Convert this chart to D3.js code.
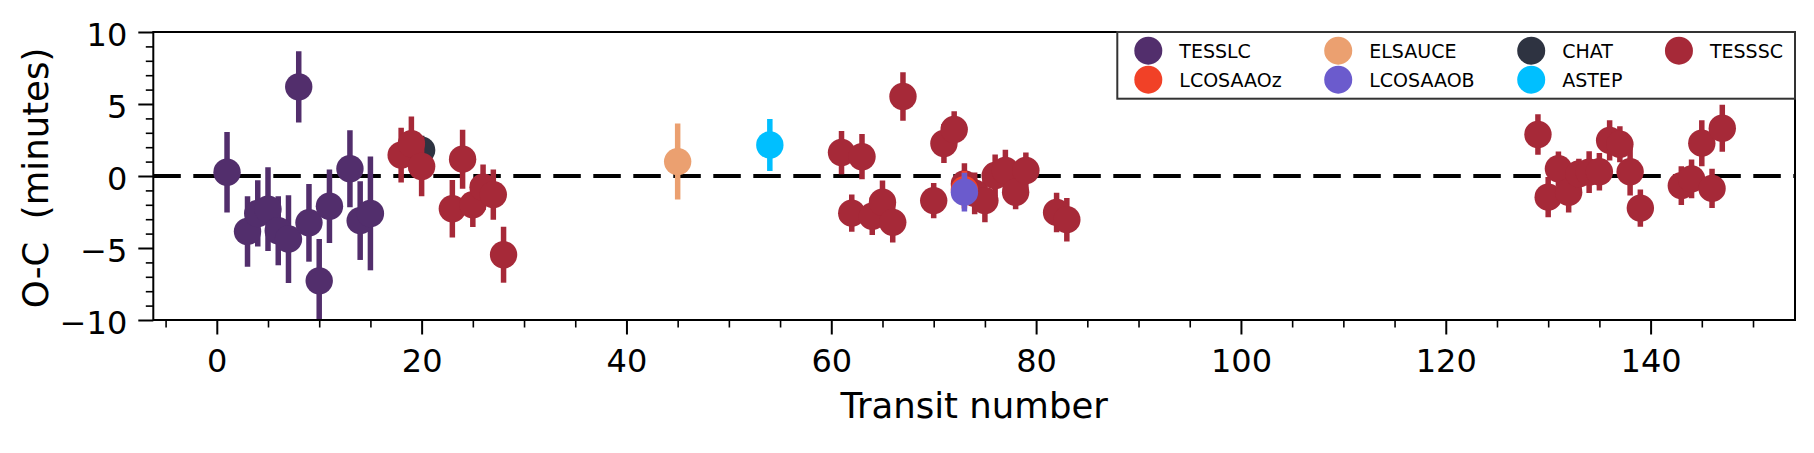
<!DOCTYPE html>
<html><head><meta charset="utf-8">
<script src="https://cdn.jsdelivr.net/npm/d3@7"></script>
<style>
body{margin:0;background:#fff}
svg text{font-family:"DejaVu Sans",sans-serif;fill:#000;white-space:pre}
</style>
</head><body>
<svg id="chart" width="1814" height="453"></svg>
<script>
// ---------------- data ----------------
const xMajorTicks = [0, 20, 40, 60, 80, 100, 120, 140];
const yMajorTicks = [-10, -5, 0, 5, 10];
const xLabel = "Transit number";
const yLabel = "O-C  (minutes)";

const tesslcT = [1, 3, 4, 5, 6, 7, 8, 9, 10, 11, 13, 14, 15];
const tesslcV = [0.26, -3.85, -2.6, -2.3, -3.8, -4.38, 6.19, -3.25, -7.28, -2.1, 0.5, -3.1, -2.6];
const tesslcE = [2.8, 2.45, 2.3, 2.9, 2.4, 3.05, 2.47, 2.7, 2.9, 2.55, 2.67, 2.73, 3.95];

const chatT = [20];
const chatV = [1.8];
const chatE = [1.0];

const elsauceT = [45];
const elsauceV = [1.0];
const elsauceE = [2.64];

const astepT = [54];
const astepV = [2.15];
const astepE = [1.8];

const tessscT = [18, 19, 20, 23, 24, 25, 26, 27, 28,
  61, 62, 63, 64, 65, 66, 67, 70, 71, 72, 73, 74, 75, 76, 77, 78, 79, 82, 83,
  129, 130, 131, 132, 133, 134, 135, 136, 137, 138, 139, 143, 144, 145, 146, 147];
const tessscV = [1.45, 2.24, 0.66, -2.27, 1.17, -2.0, -0.78, -1.29, -5.47,
  1.63, -2.58, 1.34, -2.8, -1.82, -3.22, 5.52, -1.71, 2.26, 3.23, -0.55, -1.2, -1.71, 0.03, 0.38, -1.13, 0.38, -2.53, -3.03,
  2.88, -1.47, 0.5, -1.13, 0.15, 0.27, 0.29, 2.47, 2.2, 0.29, -2.23, -0.67, -0.2, 2.28, -0.86, 3.32];
const tessscE = [1.9, 1.9, 2.06, 2.0, 2.05, 1.55, 1.58, 1.74, 1.94,
  1.5, 1.3, 1.57, 1.3, 1.5, 1.4, 1.69, 1.23, 1.35, 1.27, 1.44, 1.45, 1.5, 1.47, 1.44, 1.18, 1.26, 1.37, 1.51,
  1.4, 1.4, 1.2, 1.4, 1.05, 1.45, 1.3, 1.4, 1.25, 1.65, 1.3, 1.34, 1.35, 1.6, 1.36, 1.63];

const lcosaaozT = [73];
const lcosaaozV = [-0.95];
const lcosaaozE = [1.3];

const lcosaaobT = [73];
const lcosaaobV = [-1.12];
const lcosaaobE = [1.35];

// legend order (column-major, 2 rows)
const legendOrder = ["TESSLC", "LCOSAAOz", "ELSAUCE", "LCOSAAOB", "CHAT", "ASTEP", "TESSSC"];
// drawing order
const drawOrder = ["TESSLC", "CHAT", "ELSAUCE", "ASTEP", "TESSSC", "LCOSAAOz", "LCOSAAOB"];

// ---------------- styles ----------------
const colors = {
  TESSLC: "#522e6c", LCOSAAOz: "#f14127", ELSAUCE: "#eba070", LCOSAAOB: "#6b5bcd",
  CHAT: "#2e3341", ASTEP: "#00bfff", TESSSC: "#a62938"
};
const seriesData = {
  TESSLC: [tesslcT, tesslcV, tesslcE], CHAT: [chatT, chatV, chatE],
  ELSAUCE: [elsauceT, elsauceV, elsauceE], ASTEP: [astepT, astepV, astepE],
  TESSSC: [tessscT, tessscV, tessscE], LCOSAAOz: [lcosaaozT, lcosaaozV, lcosaaozE],
  LCOSAAOB: [lcosaaobT, lcosaaobV, lcosaaobE]
};

const svg = d3.select("#chart");
const L = 153.3, R = 1795, T = 32, B = 320;
const x = d3.scaleLinear().domain([-6.2, 154.1]).range([L, R]);
const y = d3.scaleLinear().domain([-10, 10]).range([B, T]);

svg.append("rect").attr("width", 1814).attr("height", 453).attr("fill", "#fff");

svg.append("defs").append("clipPath").attr("id", "clip")
  .append("rect").attr("x", L).attr("y", T).attr("width", R - L).attr("height", B - T);

// zero line
svg.append("line").attr("x1", L).attr("x2", R).attr("y1", y(0)).attr("y2", y(0))
  .attr("stroke", "#000").attr("stroke-width", 4).attr("stroke-dasharray", "27.5 12.5")
  .attr("clip-path", "url(#clip)");

// data
const plot = svg.append("g").attr("clip-path", "url(#clip)");
drawOrder.forEach(name => {
  const [ts, vs, es] = seriesData[name];
  const pts = ts.map((t, i) => ({t, v: vs[i], e: es[i]}));
  const g = plot.append("g");
  g.selectAll("line").data(pts).join("line")
    .attr("x1", d => x(d.t)).attr("x2", d => x(d.t))
    .attr("y1", d => y(d.v - d.e)).attr("y2", d => y(d.v + d.e))
    .attr("stroke", colors[name]).attr("stroke-width", 5.5);
  g.selectAll("circle").data(pts).join("circle")
    .attr("cx", d => x(d.t)).attr("cy", d => y(d.v)).attr("r", 13.7)
    .attr("fill", colors[name]);
});

// axes
const fmt = d3.format("d");
const xMinor = d3.range(-5, 155, 5).filter(v => !xMajorTicks.includes(v));
const yMinor = d3.range(-10, 11, 1).filter(v => !yMajorTicks.includes(v));

const gx = svg.append("g").attr("transform", `translate(0,${B})`)
  .call(d3.axisBottom(x).tickValues(xMajorTicks).tickFormat(fmt).tickSize(14.5).tickSizeOuter(0).tickPadding(15));
const gxm = svg.append("g").attr("transform", `translate(0,${B})`)
  .call(d3.axisBottom(x).tickValues(xMinor).tickFormat("").tickSize(7.5).tickSizeOuter(0));
const gy = svg.append("g").attr("transform", `translate(${L},0)`)
  .call(d3.axisLeft(y).tickValues(yMajorTicks).tickFormat(fmt).tickSize(15).tickSizeOuter(0).tickPadding(11));
const gym = svg.append("g").attr("transform", `translate(${L},0)`)
  .call(d3.axisLeft(y).tickValues(yMinor).tickFormat("").tickSize(7.5).tickSizeOuter(0));

[gx, gxm, gy, gym].forEach(g => {
  g.select(".domain").remove();
  g.attr("font-family", null).attr("font-size", null);
  g.selectAll("line").attr("stroke", "#000");
});
gx.selectAll("line").attr("stroke-width", 2);
gy.selectAll("line").attr("stroke-width", 2);
gxm.selectAll("line").attr("stroke-width", 1.6);
gym.selectAll("line").attr("stroke-width", 1.6);
gx.selectAll("text").attr("font-size", 32).attr("fill", "#000");
gy.selectAll("text").attr("font-size", 32).attr("fill", "#000").attr("dy", "0.42em");

// spines
svg.append("rect").attr("x", L).attr("y", T).attr("width", R - L).attr("height", B - T)
  .attr("fill", "none").attr("stroke", "#000").attr("stroke-width", 2);

// axis labels
svg.append("text").attr("x", (L + R) / 2).attr("y", 418).attr("text-anchor", "middle")
  .attr("font-size", 35.5).text(xLabel);
svg.append("text").attr("transform", `translate(48,${(T + B) / 2 + 2}) rotate(-90)`)
  .attr("xml:space", "preserve")
  .attr("text-anchor", "middle").attr("font-size", 35.5).text(yLabel);

// legend
const leg = svg.append("g");
const legBox = leg.append("rect").attr("fill", "#fff").attr("stroke", "#333").attr("stroke-width", 2);
const rowY = [18.7, 47.7];
const nRows = 2;
const nCols = Math.ceil(legendOrder.length / nRows);
const targetW = R - 1117.3;
// first pass: measure texts per column
const cols = [];
for (let c = 0; c < nCols; c++) {
  const items = [];
  let w = 0;
  for (let r = 0; r < nRows; r++) {
    const name = legendOrder[c * nRows + r];
    if (!name) continue;
    const circ = leg.append("circle").attr("cy", rowY[r]).attr("r", 14).attr("fill", colors[name]);
    const t = leg.append("text").attr("y", rowY[r]).attr("dy", "0.36em").attr("font-size", 19).text(name);
    w = Math.max(w, t.node().getComputedTextLength());
    items.push({circ, t});
  }
  cols.push({items, w});
}
const sumW = d3.sum(cols, c => c.w);
const gap = (targetW - 31 - 12 - nCols * 31 - sumW) / (nCols - 1);
let colX = 31;
cols.forEach(col => {
  col.items.forEach(it => {
    it.circ.attr("cx", colX);
    it.t.attr("x", colX + 31);
  });
  colX = colX + 31 + col.w + gap;
});
legBox.attr("x", 0).attr("y", 0).attr("width", targetW).attr("height", 66.7);
leg.attr("transform", `translate(${R - targetW},${T})`);
</script>
</body></html>
